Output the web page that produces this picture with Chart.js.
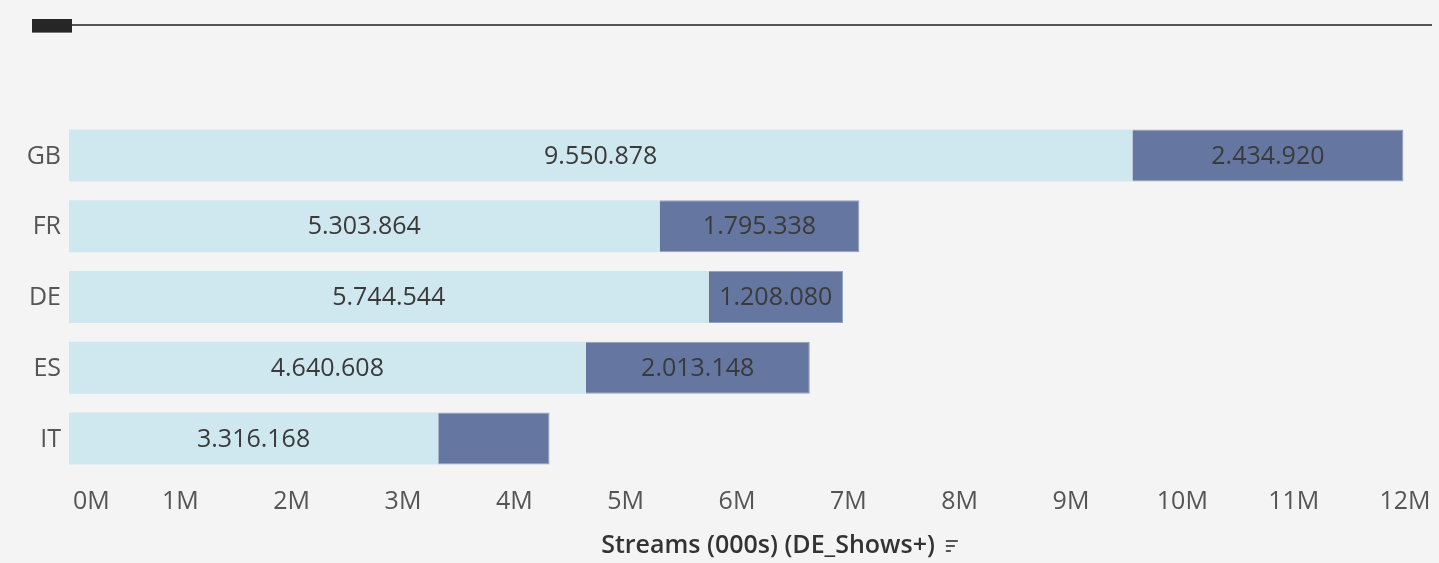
<!DOCTYPE html>
<html>
<head>
<meta charset="utf-8">
<script src="https://cdn.jsdelivr.net/npm/chart.js@4"></script>
<style>
  html, body { margin: 0; padding: 0; background: #f4f4f4; }
  #wrap { position: relative; width: 1439px; height: 563px; }
  #tab { position: absolute; left: 32px; top: 19px; width: 40px; height: 14px; background: #262626; border-bottom: 1px solid #777; box-sizing: border-box; }
  #rule { position: absolute; left: 72px; top: 24px; width: 1360px; height: 2px; background: #555; }
  canvas { position: absolute; left: 0; top: 0; }
</style>
</head>
<body>
<div id="wrap">
  <canvas id="chart" width="1439" height="563"></canvas>
  <div id="tab"></div>
  <div id="rule"></div>
</div>
<script>
const countries = ['GB', 'FR', 'DE', 'ES', 'IT'];
const base_streams = [9550878, 5303864, 5744544, 4640608, 3316168];
const extra_streams = [2434920, 1795338, 1208080, 2013148, 1000000];
const tick_values = [0, 1, 2, 3, 4, 5, 6, 7, 8, 9, 10, 11, 12];
const axis_title = 'Streams (000s) (DE_Shows+)';

const font_family = '"Open Sans", "Noto Sans", sans-serif';

function fmt(n) {
  return String(Math.round(n)).replace(/\B(?=(\d{3})+(?!\d))/g, '.');
}

// draws tick labels, category labels, value labels and axis title
const labelPlugin = {
  id: 'labels',
  afterDatasetsDraw(chart) {
    const ctx = chart.ctx;
    const x = chart.scales.x;
    const y = chart.scales.y;
    ctx.save();
    ctx.font = '25px ' + font_family;
    ctx.textBaseline = 'middle';

    // category labels
    ctx.fillStyle = '#555555';
    ctx.textAlign = 'right';
    countries.forEach(function (c, i) {
      ctx.fillText(c, x.left - 8, y.getPixelForValue(i) + 1);
    });

    // tick labels
    tick_values.forEach(function (t, i) {
      var px = x.getPixelForValue(t * 1e6);
      if (i == 0) { ctx.textAlign = 'left'; px += 4; }
      else ctx.textAlign = 'center';
      ctx.fillText(t + 'M', px, 502);
    });

    // values inside bars
    ctx.fillStyle = '#3a3a3a';
    ctx.textAlign = 'center';
    chart.data.datasets.forEach(function (ds, di) {
      var meta = chart.getDatasetMeta(di);
      meta.data.forEach(function (bar, i) {
        var txt = fmt(ds.data[i]);
        var w = Math.abs(bar.x - bar.base);
        if (ctx.measureText(txt).width + 10 > w) return;
        ctx.fillText(txt, (bar.x + bar.base) / 2, bar.y + 1);
      });
    });

    // axis title
    ctx.font = '600 25px ' + font_family;
    ctx.fillStyle = '#333333';
    ctx.textAlign = 'center';
    ctx.fillText(axis_title, 768, 546);
    var tw = ctx.measureText(axis_title).width;
    var ix = 768 + tw / 2 + 11;
    ctx.fillStyle = '#555555';
    ctx.fillRect(ix, 540, 12, 2);
    ctx.fillRect(ix, 545, 9, 2);
    ctx.fillRect(ix, 550, 5, 2);
    ctx.restore();
  }
};

new Chart(document.getElementById('chart'), {
  type: 'bar',
  data: {
    labels: countries,
    datasets: [
      {
        label: 'Base',
        data: base_streams,
        backgroundColor: '#cfe7ee',
        borderWidth: 0,
        stack: 'stack'
      },
      {
        label: 'Extra',
        data: extra_streams,
        backgroundColor: '#6577a0',
        borderColor: '#93a2c0',
        borderWidth: 1,
        stack: 'stack'
      }
    ]
  },
  options: {
    indexAxis: 'y',
    responsive: false,
    animation: false,
    events: [],
    layout: {
      padding: { left: 69, right: 34, top: 120, bottom: 89 }
    },
    datasets: {
      bar: { barPercentage: 0.735, categoryPercentage: 1 }
    },
    plugins: {
      legend: { display: false },
      tooltip: { enabled: false }
    },
    scales: {
      x: { display: false, stacked: true, min: 0, max: 12000000 },
      y: { display: false, stacked: true }
    }
  },
  plugins: [labelPlugin]
});
</script>
</body>
</html>
